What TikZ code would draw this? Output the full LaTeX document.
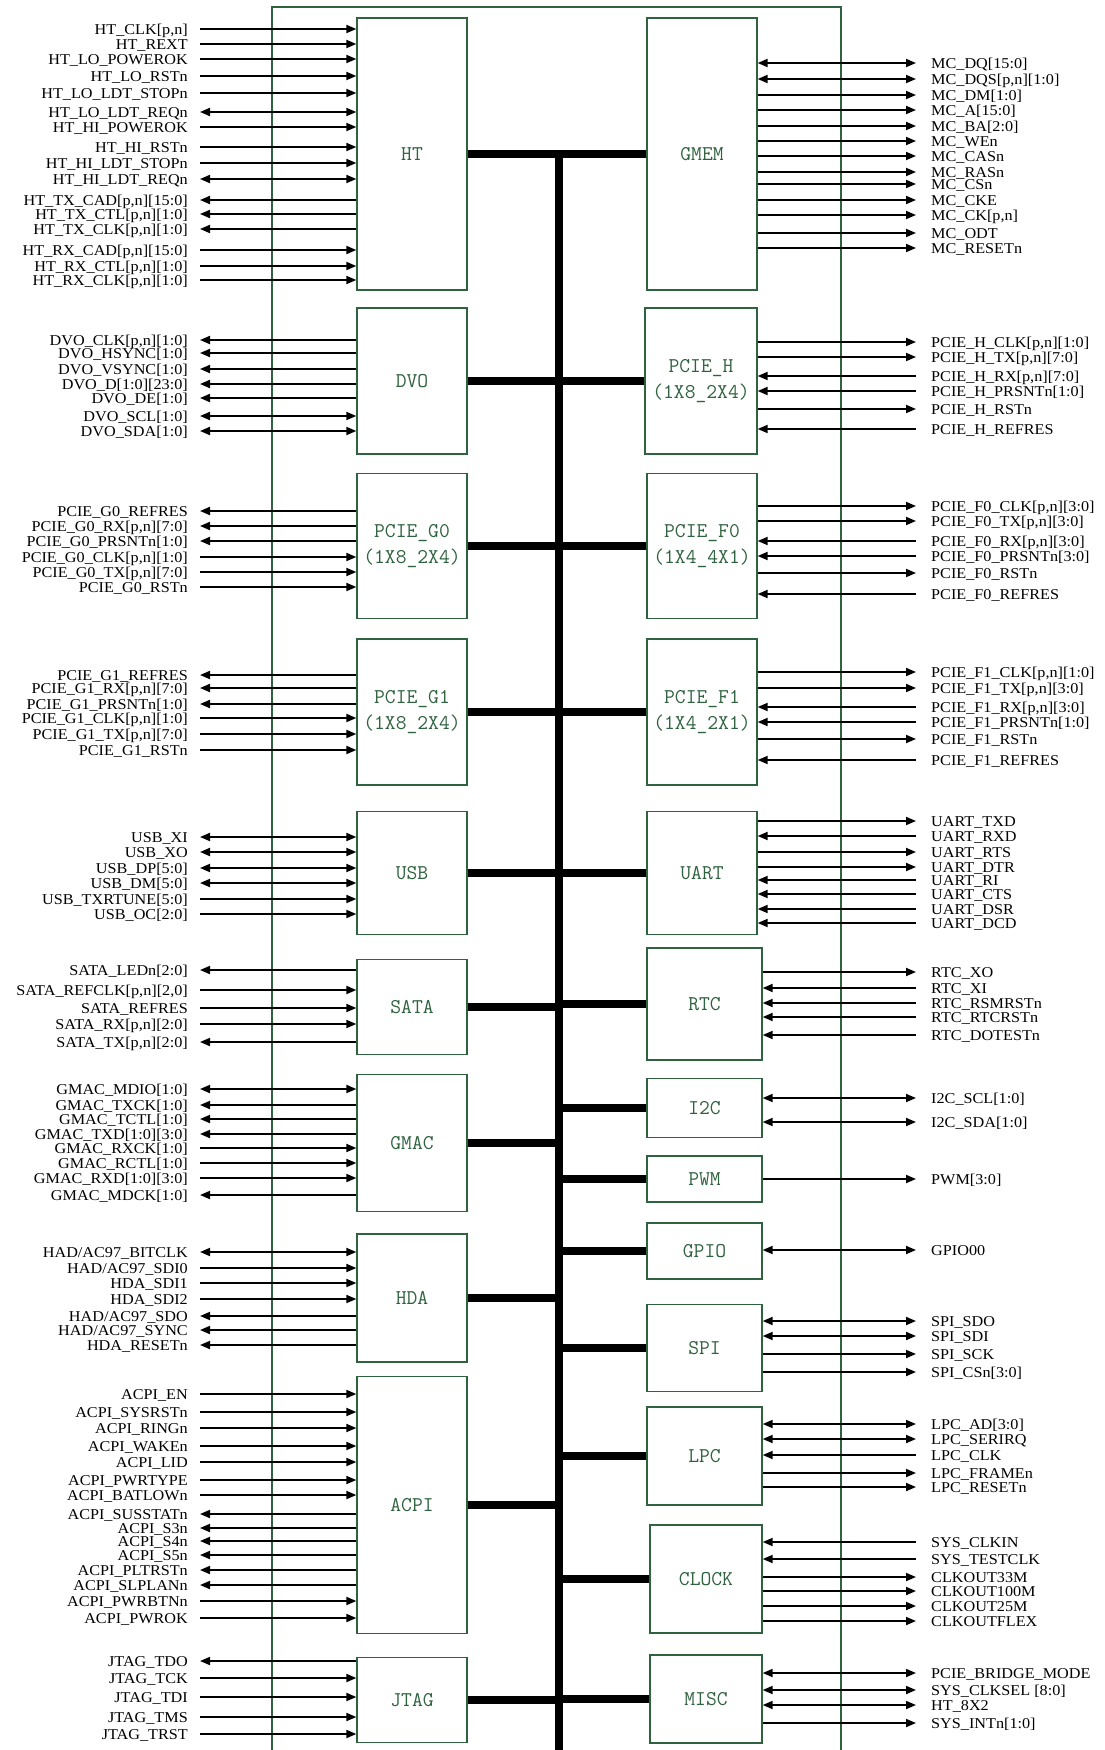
\documentclass[tikz,border=0pt]{standalone}
\usepackage{fontspec}
\setmainfont{Liberation Serif}
\newfontfamily\sigfont[FakeStretch=1.08]{Liberation Serif}
\usetikzlibrary{arrows.meta}
\definecolor{blkgreen}{RGB}{47,98,62}

\tikzset{
    blk/.style={draw=blkgreen, line width=1.3pt, minimum width=110pt, align=center,
        text=blkgreen, font=\ttfamily\fontsize{21}{26}\selectfont},
    chipframe/.style={draw=blkgreen, line width=1.3pt},
    bus/.style={line width=8pt},
    sig/.style={line width=1.8pt},
    lsig/.style={anchor=east, inner sep=0pt, text height=11pt, text depth=0pt,
        font=\sigfont\fontsize{15}{15}\selectfont},
    rsig/.style={anchor=west, inner sep=0pt, text height=11pt, text depth=0pt,
        font=\sigfont\fontsize{15}{15}\selectfont},
    toblk/.style={<-},
    fromblk/.style={->},
    bidir/.style={<->}
}

\begin{document}
\begin{tikzpicture}[x=1pt, y=-1pt, >={Triangle[length=10pt,width=8pt]}]
    \useasboundingbox (0,0) rectangle (1104,1750);
    \draw[chipframe] (272,1755) |- (841,7) -- (841,1755);

    % left blocks
    \node[blk, minimum height=272pt] (ht) at (412,154) {HT};
    \node[blk, minimum height=146pt] (dvo) at (412,381) {DVO};
    \node[blk, minimum height=145pt] (pcieg0) at (412,546) {PCIE\_G0\\(1X8\_2X4)};
    \node[blk, minimum height=146pt] (pcieg1) at (412,712) {PCIE\_G1\\(1X8\_2X4)};
    \node[blk, minimum height=123pt] (usb) at (412,873) {USB};
    \node[blk, minimum height=95pt] (sata) at (412,1007) {SATA};
    \node[blk, minimum height=137pt] (gmac) at (412,1143) {GMAC};
    \node[blk, minimum height=128pt] (hda) at (412,1298) {HDA};
    \node[blk, minimum height=257pt] (acpi) at (412,1505) {ACPI};
    \node[blk, minimum height=85pt] (jtag) at (412,1700) {JTAG};

    % right blocks
    \node[blk, minimum height=272pt] (gmem) at (702,154) {GMEM};
    \node[blk, minimum height=146pt, minimum width=112pt] (pcieh) at (701,381) {PCIE\_H\\(1X8\_2X4)};
    \node[blk, minimum height=145pt] (pcief0) at (702,546) {PCIE\_F0\\(1X4\_4X1)};
    \node[blk, minimum height=146pt] (pcief1) at (702,712) {PCIE\_F1\\(1X4\_2X1)};
    \node[blk, minimum height=123pt] (uart) at (702,873) {UART};
    \node[blk, minimum height=112pt, minimum width=115pt] (rtc) at (704.5,1004) {RTC};
    \node[blk, minimum height=59pt, minimum width=115pt] (i2c) at (704.5,1108) {I2C};
    \node[blk, minimum height=46pt, minimum width=115pt] (pwm) at (704.5,1179) {PWM};
    \node[blk, minimum height=56pt, minimum width=115pt] (gpio) at (704.5,1251) {GPIO};
    \node[blk, minimum height=87pt, minimum width=115pt] (spi) at (704.5,1348) {SPI};
    \node[blk, minimum height=98pt, minimum width=115pt] (lpc) at (704.5,1456) {LPC};
    \node[blk, minimum height=108pt, minimum width=112pt] (clock) at (706,1579) {CLOCK};
    \node[blk, minimum height=88pt, minimum width=112pt] (misc) at (706,1699) {MISC};

    % internal bus
    \coordinate (bustop) at (559,150);
    \coordinate (busbot) at (559,1755);
    \draw[bus] (bustop) -- (busbot);
    \foreach \m in {ht,dvo,pcieg0,pcieg1,usb,sata,gmac,hda,acpi,jtag}
        \draw[bus] (\m.east) -- (\m.east -| bustop);
    \foreach \m in {gmem,pcieh,pcief0,pcief1,uart,rtc,i2c,pwm,gpio,spi,lpc,clock,misc}
        \draw[bus] (\m.west) -- (\m.west -| bustop);

    % left signals
    \foreach \m/\y/\t/\d [count=\i] in {ht/29/{HT\_CLK[p,n]}/toblk,
        ht/44/{HT\_REXT}/toblk,
        ht/59/{HT\_LO\_POWEROK}/toblk,
        ht/76/{HT\_LO\_RSTn}/toblk,
        ht/93/{HT\_LO\_LDT\_STOPn}/toblk,
        ht/112/{HT\_LO\_LDT\_REQn}/bidir,
        ht/127/{HT\_HI\_POWEROK}/toblk,
        ht/147/{HT\_HI\_RSTn}/toblk,
        ht/163/{HT\_HI\_LDT\_STOPn}/toblk,
        ht/179/{HT\_HI\_LDT\_REQn}/bidir,
        ht/200/{HT\_TX\_CAD[p,n][15:0]}/fromblk,
        ht/214/{HT\_TX\_CTL[p,n][1:0]}/fromblk,
        ht/229/{HT\_TX\_CLK[p,n][1:0]}/fromblk,
        ht/250/{HT\_RX\_CAD[p,n][15:0]}/toblk,
        ht/266/{HT\_RX\_CTL[p,n][1:0]}/toblk,
        ht/280/{HT\_RX\_CLK[p,n][1:0]}/toblk,
        dvo/340/{DVO\_CLK[p,n][1:0]}/fromblk,
        dvo/353/{DVO\_HSYNC[1:0]}/fromblk,
        dvo/369/{DVO\_VSYNC[1:0]}/fromblk,
        dvo/384/{DVO\_D[1:0][23:0]}/fromblk,
        dvo/398/{DVO\_DE[1:0]}/fromblk,
        dvo/416/{DVO\_SCL[1:0]}/bidir,
        dvo/431/{DVO\_SDA[1:0]}/bidir,
        pcieg0/511/{PCIE\_G0\_REFRES}/fromblk,
        pcieg0/526/{PCIE\_G0\_RX[p,n][7:0]}/fromblk,
        pcieg0/541/{PCIE\_G0\_PRSNTn[1:0]}/fromblk,
        pcieg0/557/{PCIE\_G0\_CLK[p,n][1:0]}/toblk,
        pcieg0/572/{PCIE\_G0\_TX[p,n][7:0]}/toblk,
        pcieg0/587/{PCIE\_G0\_RSTn}/toblk,
        pcieg1/675/{PCIE\_G1\_REFRES}/fromblk,
        pcieg1/688/{PCIE\_G1\_RX[p,n][7:0]}/fromblk,
        pcieg1/704/{PCIE\_G1\_PRSNTn[1:0]}/fromblk,
        pcieg1/718/{PCIE\_G1\_CLK[p,n][1:0]}/toblk,
        pcieg1/734/{PCIE\_G1\_TX[p,n][7:0]}/toblk,
        pcieg1/750/{PCIE\_G1\_RSTn}/toblk,
        usb/837/{USB\_XI}/bidir,
        usb/852/{USB\_XO}/bidir,
        usb/868/{USB\_DP[5:0]}/bidir,
        usb/883/{USB\_DM[5:0]}/bidir,
        usb/899/{USB\_TXRTUNE[5:0]}/toblk,
        usb/914/{USB\_OC[2:0]}/toblk,
        sata/970/{SATA\_LEDn[2:0]}/fromblk,
        sata/990/{SATA\_REFCLK[p,n][2,0]}/toblk,
        sata/1008/{SATA\_REFRES}/toblk,
        sata/1024/{SATA\_RX[p,n][2:0]}/toblk,
        sata/1042/{SATA\_TX[p,n][2:0]}/fromblk,
        gmac/1089/{GMAC\_MDIO[1:0]}/bidir,
        gmac/1105/{GMAC\_TXCK[1:0]}/fromblk,
        gmac/1119/{GMAC\_TCTL[1:0]}/fromblk,
        gmac/1134/{GMAC\_TXD[1:0][3:0]}/fromblk,
        gmac/1148/{GMAC\_RXCK[1:0]}/toblk,
        gmac/1163/{GMAC\_RCTL[1:0]}/toblk,
        gmac/1178/{GMAC\_RXD[1:0][3:0]}/toblk,
        gmac/1195/{GMAC\_MDCK[1:0]}/fromblk,
        hda/1252/{HAD/AC97\_BITCLK}/bidir,
        hda/1268/{HAD/AC97\_SDI0}/toblk,
        hda/1283/{HDA\_SDI1}/toblk,
        hda/1299/{HDA\_SDI2}/toblk,
        hda/1316/{HAD/AC97\_SDO}/fromblk,
        hda/1330/{HAD/AC97\_SYNC}/fromblk,
        hda/1345/{HDA\_RESETn}/fromblk,
        acpi/1394/{ACPI\_EN}/toblk,
        acpi/1412/{ACPI\_SYSRSTn}/toblk,
        acpi/1428/{ACPI\_RINGn}/toblk,
        acpi/1446/{ACPI\_WAKEn}/toblk,
        acpi/1462/{ACPI\_LID}/toblk,
        acpi/1480/{ACPI\_PWRTYPE}/toblk,
        acpi/1495/{ACPI\_BATLOWn}/toblk,
        acpi/1514/{ACPI\_SUSSTATn}/fromblk,
        acpi/1528/{ACPI\_S3n}/fromblk,
        acpi/1541/{ACPI\_S4n}/fromblk,
        acpi/1555/{ACPI\_S5n}/fromblk,
        acpi/1570/{ACPI\_PLTRSTn}/fromblk,
        acpi/1585/{ACPI\_SLPLANn}/fromblk,
        acpi/1601/{ACPI\_PWRBTNn}/toblk,
        acpi/1618/{ACPI\_PWROK}/toblk,
        jtag/1661/{JTAG\_TDO}/fromblk,
        jtag/1678/{JTAG\_TCK}/toblk,
        jtag/1697/{JTAG\_TDI}/toblk,
        jtag/1717/{JTAG\_TMS}/toblk,
        jtag/1734/{JTAG\_TRST}/toblk} {
        \node[lsig] (sl\i) at (188,\y) {\t};
        \draw[sig,\d] (sl\i -| \m.west) -- ([xshift=12pt]sl\i.east);
    }

    % right signals
    \foreach \m/\y/\t/\d [count=\i] in {gmem/63/{MC\_DQ[15:0]}/bidir,
        gmem/79/{MC\_DQS[p,n][1:0]}/bidir,
        gmem/95/{MC\_DM[1:0]}/fromblk,
        gmem/110/{MC\_A[15:0]}/fromblk,
        gmem/126/{MC\_BA[2:0]}/fromblk,
        gmem/141/{MC\_WEn}/fromblk,
        gmem/156/{MC\_CASn}/fromblk,
        gmem/172/{MC\_RASn}/fromblk,
        gmem/184/{MC\_CSn}/fromblk,
        gmem/200/{MC\_CKE}/fromblk,
        gmem/215/{MC\_CK[p,n]}/fromblk,
        gmem/233/{MC\_ODT}/fromblk,
        gmem/248/{MC\_RESETn}/fromblk,
        pcieh/342/{PCIE\_H\_CLK[p,n][1:0]}/fromblk,
        pcieh/357/{PCIE\_H\_TX[p,n][7:0]}/fromblk,
        pcieh/376/{PCIE\_H\_RX[p,n][7:0]}/toblk,
        pcieh/391/{PCIE\_H\_PRSNTn[1:0]}/toblk,
        pcieh/409/{PCIE\_H\_RSTn}/fromblk,
        pcieh/429/{PCIE\_H\_REFRES}/toblk,
        pcief0/506/{PCIE\_F0\_CLK[p,n][3:0]}/fromblk,
        pcief0/521/{PCIE\_F0\_TX[p,n][3:0]}/fromblk,
        pcief0/541/{PCIE\_F0\_RX[p,n][3:0]}/toblk,
        pcief0/556/{PCIE\_F0\_PRSNTn[3:0]}/toblk,
        pcief0/573/{PCIE\_F0\_RSTn}/fromblk,
        pcief0/594/{PCIE\_F0\_REFRES}/toblk,
        pcief1/672/{PCIE\_F1\_CLK[p,n][1:0]}/fromblk,
        pcief1/688/{PCIE\_F1\_TX[p,n][3:0]}/fromblk,
        pcief1/707/{PCIE\_F1\_RX[p,n][3:0]}/toblk,
        pcief1/722/{PCIE\_F1\_PRSNTn[1:0]}/toblk,
        pcief1/739/{PCIE\_F1\_RSTn}/fromblk,
        pcief1/760/{PCIE\_F1\_REFRES}/toblk,
        uart/821/{UART\_TXD}/fromblk,
        uart/836/{UART\_RXD}/toblk,
        uart/852/{UART\_RTS}/fromblk,
        uart/867/{UART\_DTR}/fromblk,
        uart/880/{UART\_RI}/toblk,
        uart/894/{UART\_CTS}/toblk,
        uart/909/{UART\_DSR}/toblk,
        uart/923/{UART\_DCD}/toblk,
        rtc/972/{RTC\_XO}/fromblk,
        rtc/988/{RTC\_XI}/toblk,
        rtc/1003/{RTC\_RSMRSTn}/toblk,
        rtc/1017/{RTC\_RTCRSTn}/toblk,
        rtc/1035/{RTC\_DOTESTn}/toblk,
        i2c/1098/{I2C\_SCL[1:0]}/bidir,
        i2c/1122/{I2C\_SDA[1:0]}/bidir,
        pwm/1179/{PWM[3:0]}/fromblk,
        gpio/1250/{GPIO00}/bidir,
        spi/1321/{SPI\_SDO}/bidir,
        spi/1336/{SPI\_SDI}/bidir,
        spi/1354/{SPI\_SCK}/fromblk,
        spi/1372/{SPI\_CSn[3:0]}/fromblk,
        lpc/1424/{LPC\_AD[3:0]}/bidir,
        lpc/1439/{LPC\_SERIRQ}/bidir,
        lpc/1455/{LPC\_CLK}/toblk,
        lpc/1473/{LPC\_FRAMEn}/fromblk,
        lpc/1487/{LPC\_RESETn}/fromblk,
        clock/1542/{SYS\_CLKIN}/toblk,
        clock/1559/{SYS\_TESTCLK}/toblk,
        clock/1577/{CLKOUT33M}/fromblk,
        clock/1591/{CLKOUT100M}/fromblk,
        clock/1606/{CLKOUT25M}/fromblk,
        clock/1621/{CLKOUTFLEX}/fromblk,
        misc/1673/{PCIE\_BRIDGE\_MODE}/bidir,
        misc/1690/{SYS\_CLKSEL [8:0]}/bidir,
        misc/1705/{HT\_8X2}/bidir,
        misc/1723/{SYS\_INTn[1:0]}/fromblk} {
        \node[rsig] (sr\i) at (931,\y) {\t};
        \draw[sig,\d] (sr\i -| \m.east) -- ([xshift=-15pt]sr\i.west);
    }
\end{tikzpicture}
\end{document}
